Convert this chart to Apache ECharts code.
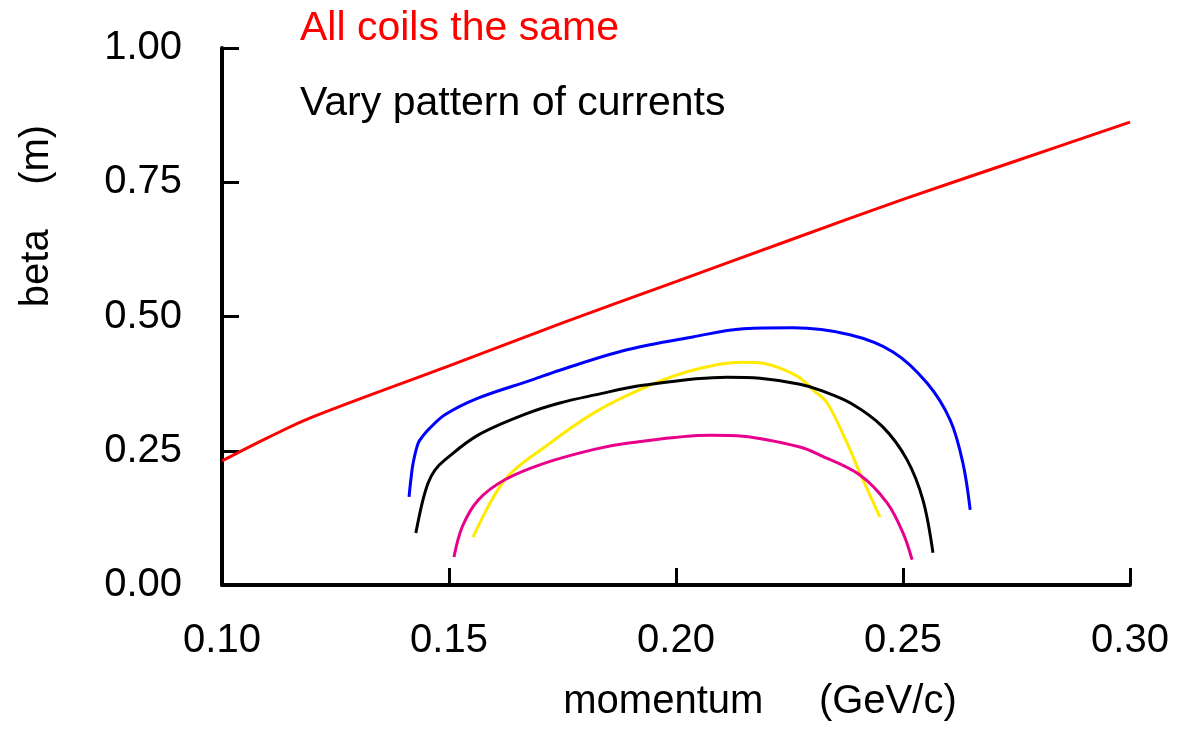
<!DOCTYPE html>
<html>
<head>
<meta charset="utf-8">
<script src="https://cdn.jsdelivr.net/npm/echarts@6/dist/echarts.min.js"></script>
<style>
  html, body { margin: 0; padding: 0; background: #fff; }
  #chart { width: 1182px; height: 729px; }
</style>
</head>
<body>
<div id="chart"></div>
<script>
// Tick labels
var xTicks = [0.10, 0.15, 0.20, 0.25, 0.30];
var yTicks = [0.00, 0.25, 0.50, 0.75, 1.00];

// All coils the same
var redMomentum = [0.100, 0.110, 0.120, 0.150, 0.175, 0.200, 0.225, 0.250, 0.275, 0.300];
var redBeta     = [0.231, 0.274, 0.313, 0.408, 0.488, 0.565, 0.642, 0.718, 0.790, 0.862];

// Varied current patterns
var blueMomentum = [0.1412, 0.1416, 0.1421, 0.1432, 0.1443, 0.1454, 0.1491, 0.1564, 0.1683, 0.1744, 0.1892, 0.2037, 0.2148, 0.2258, 0.2383, 0.2478, 0.2553, 0.2604, 0.2632, 0.2648];
var blueBeta     = [0.164, 0.196, 0.227, 0.264, 0.278, 0.289, 0.317, 0.348, 0.382, 0.400, 0.438, 0.462, 0.477, 0.479, 0.466, 0.434, 0.376, 0.307, 0.227, 0.140];

var blackMomentum = [0.1427, 0.1441, 0.1454, 0.1469, 0.1491, 0.1564, 0.1674, 0.1744, 0.1822, 0.1927, 0.2112, 0.2185, 0.2273, 0.2317, 0.2386, 0.2456, 0.2509, 0.2544, 0.2566];
var blackBeta     = [0.097, 0.153, 0.190, 0.214, 0.233, 0.279, 0.320, 0.339, 0.354, 0.372, 0.387, 0.385, 0.374, 0.363, 0.338, 0.294, 0.233, 0.158, 0.060];

var yellowMomentum = [0.1553, 0.1623, 0.1711, 0.1822, 0.1943, 0.2037, 0.2148, 0.2192, 0.2267, 0.2302, 0.2333, 0.2377, 0.2405, 0.2449];
var yellowBeta     = [0.089, 0.196, 0.257, 0.322, 0.372, 0.400, 0.415, 0.413, 0.389, 0.363, 0.339, 0.264, 0.209, 0.127];

var magentaMomentum = [0.1511, 0.1529, 0.1564, 0.1623, 0.1711, 0.1822, 0.1892, 0.2075, 0.2148, 0.2273, 0.2317, 0.2405, 0.2465, 0.2500, 0.2520];
var magentaBeta     = [0.052, 0.108, 0.158, 0.196, 0.227, 0.253, 0.264, 0.279, 0.277, 0.257, 0.242, 0.205, 0.153, 0.097, 0.047];

function pairs(xs, ys) {
  return xs.map(function (x, i) { return [x, ys[i]]; });
}

var FONT = "'Liberation Sans', Arial, sans-serif";

function curve(name, xs, ys, color) {
  return {
    name: name,
    type: 'line',
    data: pairs(xs, ys),
    showSymbol: false,
    smooth: 0.35,
    clip: false,
    lineStyle: { color: color, width: 3 },
    emphasis: { disabled: true }
  };
}

var chart = echarts.init(document.getElementById('chart'), null, { renderer: 'canvas' });

chart.setOption({
  animation: false,
  backgroundColor: '#ffffff',
  grid: { left: 222, right: 52, top: 48, bottom: 144, containLabel: false },
  xAxis: {
    type: 'value',
    min: xTicks[0],
    max: xTicks[xTicks.length - 1],
    interval: 0.05,
    axisLine: { show: true, lineStyle: { color: '#000', width: 4 } },
    axisTick: { show: true, inside: true, length: 17, lineStyle: { color: '#000', width: 3 } },
    splitLine: { show: false },
    axisLabel: {
      color: '#000', fontSize: 40, fontFamily: FONT, margin: 36,
      formatter: function (v) { return v.toFixed(2); }
    }
  },
  yAxis: {
    type: 'value',
    min: yTicks[0],
    max: yTicks[yTicks.length - 1],
    interval: 0.25,
    axisLine: { show: true, lineStyle: { color: '#000', width: 4 } },
    axisTick: { show: true, inside: true, length: 17, lineStyle: { color: '#000', width: 3 } },
    splitLine: { show: false },
    axisLabel: {
      color: '#000', fontSize: 40, fontFamily: FONT, margin: 40,
      formatter: function (v) { return v.toFixed(2); }
    }
  },
  graphic: [
    {
      type: 'text', left: 300, top: 8,
      style: { text: 'All coils the same', fill: '#ff0000', font: '41px ' + FONT }
    },
    {
      type: 'text', left: 300, top: 83,
      style: { text: 'Vary pattern of currents', fill: '#000000', font: '41px ' + FONT }
    },
    {
      type: 'text', x: 37, y: 216, rotation: Math.PI / 2,
      style: { text: 'beta    (m)', fill: '#000000', font: '40px ' + FONT, align: 'center', verticalAlign: 'middle' }
    },
    {
      type: 'text', x: 760, y: 702,
      style: { text: 'momentum     (GeV/c)', fill: '#000000', font: '40px ' + FONT, align: 'center', verticalAlign: 'middle' }
    }
  ],
  series: [
    curve('All coils the same', redMomentum, redBeta, '#ff0000'),
    curve('Blue', blueMomentum, blueBeta, '#0000ff'),
    curve('Yellow', yellowMomentum, yellowBeta, '#ffea00'),
    curve('Black', blackMomentum, blackBeta, '#000000'),
    curve('Magenta', magentaMomentum, magentaBeta, '#e8008c')
  ]
});
</script>
</body>
</html>
